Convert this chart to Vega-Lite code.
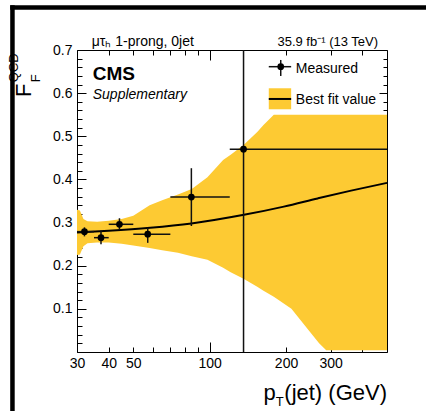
{
  "$schema": "https://vega.github.io/schema/vega-lite/v6.json",
  "autosize": {"type": "none"},
  "padding": {"left": 77, "top": 50, "right": 39, "bottom": 59},
  "width": 310,
  "height": 302,
  "background": "white",
  "config": {
    "view": {"stroke": "black", "strokeWidth": 1},
    "axis": {"grid": false, "domain": false, "labelFont": "Liberation Sans", "labelFontSize": 14, "labelColor": "black", "tickColor": "black", "tickWidth": 1},
    "text": {"font": "Liberation Sans", "color": "black"}
  },
  "resolve": {"axis": {"x": "independent", "y": "independent"}},
  "datasets": {
    "band": [
      {"pt": 30, "lo": 0.225, "hi": 0.33},
      {"pt": 30.8, "lo": 0.226, "hi": 0.328},
      {"pt": 31.8, "lo": 0.245, "hi": 0.308},
      {"pt": 33, "lo": 0.252, "hi": 0.303},
      {"pt": 36, "lo": 0.254, "hi": 0.302},
      {"pt": 40, "lo": 0.254, "hi": 0.304},
      {"pt": 45, "lo": 0.251, "hi": 0.308},
      {"pt": 50, "lo": 0.247, "hi": 0.316},
      {"pt": 58, "lo": 0.241, "hi": 0.34},
      {"pt": 65, "lo": 0.236, "hi": 0.352},
      {"pt": 75, "lo": 0.23, "hi": 0.365},
      {"pt": 85, "lo": 0.222, "hi": 0.378},
      {"pt": 98, "lo": 0.214, "hi": 0.405},
      {"pt": 113, "lo": 0.195, "hi": 0.445},
      {"pt": 121, "lo": 0.185, "hi": 0.457},
      {"pt": 136, "lo": 0.17, "hi": 0.48},
      {"pt": 154, "lo": 0.151, "hi": 0.51},
      {"pt": 163, "lo": 0.142, "hi": 0.526},
      {"pt": 179, "lo": 0.128, "hi": 0.55},
      {"pt": 210, "lo": 0.1, "hi": 0.55},
      {"pt": 246, "lo": 0.05, "hi": 0.55},
      {"pt": 270, "lo": 0.02, "hi": 0.55},
      {"pt": 288, "lo": 0.004, "hi": 0.55},
      {"pt": 500, "lo": 0.004, "hi": 0.55}
    ],
    "fit": [
      {"pt": 30, "F": 0.277},
      {"pt": 40, "F": 0.281},
      {"pt": 58.3, "F": 0.288},
      {"pt": 84.7, "F": 0.298},
      {"pt": 136.5, "F": 0.318},
      {"pt": 196, "F": 0.337},
      {"pt": 266.7, "F": 0.356},
      {"pt": 360.9, "F": 0.374},
      {"pt": 500, "F": 0.392}
    ],
    "measured": [
      {"pt": 32.1, "pt_lo": 30, "pt_hi": 35, "F": 0.279, "F_lo": 0.268, "F_hi": 0.289},
      {"pt": 37.3, "pt_lo": 35, "pt_hi": 40, "F": 0.265, "F_lo": 0.25, "F_hi": 0.281},
      {"pt": 44.1, "pt_lo": 40, "pt_hi": 50, "F": 0.296, "F_lo": 0.283, "F_hi": 0.31},
      {"pt": 57.0, "pt_lo": 50, "pt_hi": 70, "F": 0.273, "F_lo": 0.253, "F_hi": 0.288},
      {"pt": 84.7, "pt_lo": 70, "pt_hi": 120, "F": 0.359, "F_lo": 0.292, "F_hi": 0.426},
      {"pt": 136, "pt_lo": 120, "pt_hi": 500, "F": 0.47, "F_lo": 0, "F_hi": 0.7}
    ],
    "one": [{}]
  },
  "layer": [
    {
      "data": {"name": "band"},
      "mark": {"type": "area", "color": "#FDCA33", "opacity": 1},
      "encoding": {
        "x": {"field": "pt", "type": "quantitative", "scale": {"type": "log", "domain": [30, 500], "nice": false},
              "axis": {"orient": "bottom", "title": null, "values": [30, 40, 50, 100, 200, 300], "format": "d", "ticks": false, "labelPadding": 4, "labelFlush": false, "labelOverlap": false}},
        "y": {"field": "hi", "type": "quantitative", "scale": {"domain": [0, 0.7], "nice": false, "zero": false},
              "axis": {"orient": "left", "title": null, "values": [0.1, 0.2, 0.3, 0.4, 0.5, 0.6, 0.7], "format": ".1f", "ticks": false, "labelPadding": 5, "labelFlush": false, "labelOverlap": false}},
        "y2": {"field": "lo"}
      }
    },
    {
      "data": {"name": "fit"},
      "mark": {"type": "line", "color": "black", "strokeWidth": 2, "interpolate": "monotone"},
      "encoding": {
        "x": {"field": "pt", "type": "quantitative", "scale": {"type": "log", "domain": [30, 500], "nice": false},
              "axis": {"orient": "bottom", "title": null, "values": [30, 40, 50, 60, 70, 80, 90, 200, 300, 400], "labels": false, "tickSize": -5}},
        "y": {"field": "F", "type": "quantitative", "scale": {"domain": [0, 0.7], "nice": false, "zero": false},
              "axis": {"orient": "left", "title": null, "values": [0, 0.1, 0.2, 0.3, 0.4, 0.5, 0.6, 0.7], "labels": false, "tickSize": -9}}
      }
    },
    {
      "data": {"name": "measured"},
      "mark": {"type": "rule", "color": "#111111", "strokeWidth": 1.5},
      "encoding": {
        "x": {"field": "pt_lo", "type": "quantitative", "scale": {"type": "log", "domain": [30, 500], "nice": false},
              "axis": {"orient": "top", "title": null, "values": [30, 40, 50, 60, 70, 80, 90, 200, 300, 400], "labels": false, "tickSize": -5}},
        "x2": {"field": "pt_hi"},
        "y": {"field": "F", "type": "quantitative", "scale": {"domain": [0, 0.7], "nice": false, "zero": false},
              "axis": {"orient": "left", "title": null, "values": [0.02, 0.04, 0.06, 0.08, 0.12, 0.14, 0.16, 0.18, 0.22, 0.24, 0.26, 0.28, 0.32, 0.34, 0.36, 0.38, 0.42, 0.44, 0.46, 0.48, 0.52, 0.54, 0.56, 0.58, 0.62, 0.64, 0.66, 0.68], "labels": false, "tickSize": -5}}
      }
    },
    {
      "data": {"name": "measured"},
      "mark": {"type": "rule", "color": "#111111", "strokeWidth": 1.5},
      "encoding": {
        "x": {"field": "pt", "type": "quantitative", "scale": {"type": "log", "domain": [30, 500], "nice": false},
              "axis": {"orient": "top", "title": null, "values": [100], "labels": false, "tickSize": -10}},
        "y": {"field": "F_lo", "type": "quantitative", "scale": {"domain": [0, 0.7], "nice": false, "zero": false},
              "axis": {"orient": "right", "title": null, "values": [0, 0.1, 0.2, 0.3, 0.4, 0.5, 0.6, 0.7], "labels": false, "tickSize": -8}},
        "y2": {"field": "F_hi"}
      }
    },
    {
      "data": {"name": "measured"},
      "mark": {"type": "point", "filled": true, "color": "black", "size": 45, "opacity": 1},
      "encoding": {
        "x": {"field": "pt", "type": "quantitative", "scale": {"type": "log", "domain": [30, 500], "nice": false},
              "axis": {"orient": "bottom", "title": null, "values": [100], "labels": false, "tickSize": -10}},
        "y": {"field": "F", "type": "quantitative", "scale": {"domain": [0, 0.7], "nice": false, "zero": false},
              "axis": {"orient": "right", "title": null, "values": [0.02, 0.04, 0.06, 0.08, 0.12, 0.14, 0.16, 0.18, 0.22, 0.24, 0.26, 0.28, 0.32, 0.34, 0.36, 0.38, 0.42, 0.44, 0.46, 0.48, 0.52, 0.54, 0.56, 0.58, 0.62, 0.64, 0.66, 0.68], "labels": false, "tickSize": -4}}
      }
    },
    {
      "data": {"name": "one"},
      "mark": {"type": "rect", "color": "#FDCA33"},
      "encoding": {"x": {"datum": 171, "axis": null}, "x2": {"datum": 209.5}, "y": {"datum": 0.5626, "axis": null}, "y2": {"datum": 0.6113}}
    },
    {
      "data": {"name": "one"},
      "mark": {"type": "rule", "color": "black", "strokeWidth": 2},
      "encoding": {"x": {"datum": 171, "axis": null}, "x2": {"datum": 209.5}, "y": {"datum": 0.5865, "axis": null}}
    },
    {
      "data": {"name": "one"},
      "mark": {"type": "rule", "color": "#111111", "strokeWidth": 1.5},
      "encoding": {"x": {"datum": 171, "axis": null}, "x2": {"datum": 209.5}, "y": {"datum": 0.6613, "axis": null}}
    },
    {
      "data": {"name": "one"},
      "mark": {"type": "rule", "color": "#111111", "strokeWidth": 1.5},
      "encoding": {"x": {"datum": 190.6, "axis": null}, "y": {"datum": 0.6398, "axis": null}, "y2": {"datum": 0.6769}}
    },
    {
      "data": {"name": "one"},
      "mark": {"type": "point", "filled": true, "color": "black", "size": 45, "opacity": 1},
      "encoding": {"x": {"datum": 190.6, "axis": null}, "y": {"datum": 0.6613, "axis": null}}
    },
    {
      "data": {"name": "one"},
      "mark": {"type": "text", "text": "Measured", "fontSize": 14, "align": "left", "baseline": "alphabetic"},
      "encoding": {"x": {"datum": 218.6, "axis": null}, "y": {"datum": 0.6474, "axis": null}}
    },
    {
      "data": {"name": "one"},
      "mark": {"type": "text", "text": "Best fit value", "fontSize": 14, "align": "left", "baseline": "alphabetic"},
      "encoding": {"x": {"datum": 218.6, "axis": null}, "y": {"datum": 0.5742, "axis": null}}
    },
    {
      "data": {"name": "one"},
      "mark": {"type": "text", "text": "CMS", "fontSize": 19, "fontWeight": "bold", "align": "left", "baseline": "alphabetic"},
      "encoding": {"x": {"datum": 34.6, "axis": null}, "y": {"datum": 0.6316, "axis": null}}
    },
    {
      "data": {"name": "one"},
      "mark": {"type": "text", "text": "Supplementary", "fontSize": 14, "fontStyle": "italic", "align": "left", "baseline": "alphabetic"},
      "encoding": {"x": {"datum": 34.6, "axis": null}, "y": {"datum": 0.5864, "axis": null}}
    },
    {
      "data": {"name": "one"},
      "mark": {"type": "text", "text": "μτₕ 1-prong, 0jet", "fontSize": 14, "align": "left", "baseline": "alphabetic"},
      "encoding": {"x": {"datum": 34.3, "axis": null}, "y": {"datum": 0.709, "axis": null}}
    },
    {
      "data": {"name": "one"},
      "mark": {"type": "text", "text": "35.9 fb⁻¹ (13 TeV)", "fontSize": 13, "align": "right", "baseline": "alphabetic"},
      "encoding": {"x": {"datum": 461, "axis": null}, "y": {"datum": 0.709, "axis": null}}
    },
    {
      "data": {"name": "one"},
      "mark": {"type": "text", "text": "p", "fontSize": 22, "align": "left", "baseline": "alphabetic"},
      "encoding": {"x": {"datum": 163, "axis": null}, "y": {"datum": -0.111, "axis": null}}
    },
    {
      "data": {"name": "one"},
      "mark": {"type": "text", "text": "T", "fontSize": 13, "align": "left", "baseline": "alphabetic"},
      "encoding": {"x": {"datum": 182, "axis": null}, "y": {"datum": -0.126, "axis": null}}
    },
    {
      "data": {"name": "one"},
      "mark": {"type": "text", "text": "(jet) (GeV)", "fontSize": 22, "align": "right", "baseline": "alphabetic"},
      "encoding": {"x": {"datum": 500, "axis": null}, "y": {"datum": -0.111, "axis": null}}
    },
    {
      "data": {"name": "one"},
      "mark": {"type": "text", "text": "F", "fontSize": 22, "angle": 270, "align": "left", "baseline": "alphabetic"},
      "encoding": {"x": {"datum": 19.8, "axis": null}, "y": {"datum": 0.591, "axis": null}}
    },
    {
      "data": {"name": "one"},
      "mark": {"type": "text", "text": "QCD", "fontSize": 13, "angle": 270, "align": "left", "baseline": "alphabetic"},
      "encoding": {"x": {"datum": 17.6, "axis": null}, "y": {"datum": 0.625, "axis": null}}
    },
    {
      "data": {"name": "one"},
      "mark": {"type": "text", "text": "F", "fontSize": 13, "angle": 270, "align": "left", "baseline": "alphabetic"},
      "encoding": {"x": {"datum": 21.4, "axis": null}, "y": {"datum": 0.625, "axis": null}}
    },
    {
      "data": {"name": "one"},
      "mark": {"type": "rule", "color": "black", "strokeWidth": 4.5, "strokeCap": "square"},
      "encoding": {"x": {"datum": 16.7, "axis": null}, "x2": {"datum": 900}, "y": {"datum": 0.7985, "axis": null}}
    },
    {
      "data": {"name": "one"},
      "mark": {"type": "rule", "color": "black", "strokeWidth": 4.5, "strokeCap": "square"},
      "encoding": {"x": {"datum": 16.7, "axis": null}, "y": {"datum": 0.7985, "axis": null}, "y2": {"datum": -0.2}}
    }
  ]
}
